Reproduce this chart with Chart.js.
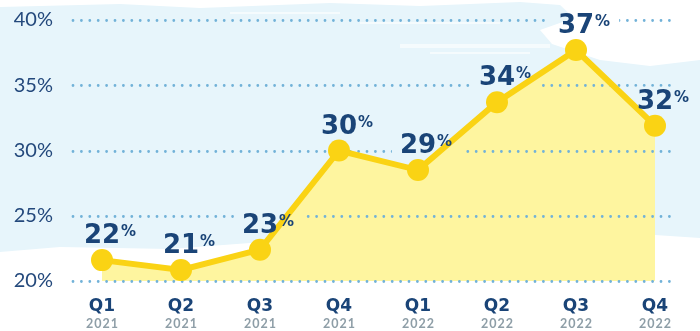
<!DOCTYPE html>
<html lang="en">
<head>
<meta charset="UTF-8">
<title>Quarterly rate</title>
<script src="https://cdn.jsdelivr.net/npm/chart.js"></script>
<style>
  html, body { margin: 0; padding: 0; background: #fff; }
  #wrap { width: 700px; height: 331px; }
</style>
</head>
<body>
<div id="wrap"><canvas id="chart" width="700" height="331"></canvas></div>
<script>
// data
const quarters = ["Q1", "Q2", "Q3", "Q4", "Q1", "Q2", "Q3", "Q4"];
const years = ["2021", "2021", "2021", "2021", "2022", "2022", "2022", "2022"];
const values = [21.6, 20.85, 22.4, 30.0, 28.5, 33.7, 37.7, 31.9];
const valueLabels = ["22", "21", "23", "30", "29", "34", "37", "32"];

const navy = "#1a4477";
const yellow = "#fad314";
const numFont = "bold 26px 'DejaVu Sans'";
const pctFont = "bold 15px 'DejaVu Sans'";

// where a value label sits relative to its point
function labelBox(c, pt, i) {
  c.font = numFont;
  const w = c.measureText(valueLabels[i]).width;
  c.font = pctFont;
  const pw = c.measureText("%").width;
  const bx = pt.x - w / 2, by = pt.y - 17;
  return { bx, by, w, pw };
}

// painted light blue backdrop
const backdrop = {
  id: "backdrop",
  beforeDraw(chart) {
    const c = chart.ctx;
    c.save();
    c.fillStyle = "#fff";
    c.fillRect(0, 0, chart.width, chart.height);
    c.fillStyle = "#e7f5fb";
    const pts = [[0,7],[120,4],[200,8],[330,3],[420,6],[520,2],[560,5],[574,18],[540,30],[552,44],
      [600,60],[650,66],[700,60],[700,238],[640,234],[560,240],[400,245],[250,243],[170,249],[60,247],[0,252]];
    c.beginPath();
    pts.forEach((p, i) => i ? c.lineTo(p[0], p[1]) : c.moveTo(p[0], p[1]));
    c.closePath();
    c.fill();
    // soft white brush streaks
    c.fillStyle = "rgba(255,255,255,0.6)";
    [[230,12,110,2],[360,22,140,2],[400,44,150,4],[430,52,100,2],[0,257,50,2],[20,266,40,2],[190,252,70,2]]
      .forEach(s => c.fillRect(s[0], s[1], s[2], s[3]));
    c.restore();
  }
};

// dotted grid lines, drawn over the fill, broken where a label sits
const dots = {
  id: "dots",
  beforeDatasetsDraw(chart) {
    const c = chart.ctx, y = chart.scales.y;
    const meta = chart.getDatasetMeta(0);
    c.save();
    c.beginPath();
    c.rect(0, 0, chart.width, chart.height);
    meta.data.forEach((pt, i) => {
      const b = labelBox(c, pt, i);
      c.rect(b.bx - 8, b.by - 22, b.w + b.pw + 18, 26);
    });
    c.clip("evenodd");
    c.strokeStyle = "#72b2d8";
    c.lineWidth = 2.8;
    c.lineCap = "round";
    c.setLineDash([0, 8.4]);
    y.ticks.forEach(t => {
      const py = Math.round(y.getPixelForValue(t.value)) + 0.5;
      c.beginPath();
      c.moveTo(73, py);
      c.lineTo(674, py);
      c.stroke();
    });
    c.restore();
  }
};

// value labels and two-line x labels
const labels = {
  id: "labels",
  afterDatasetsDraw(chart) {
    const c = chart.ctx;
    const meta = chart.getDatasetMeta(0);
    c.save();
    c.fillStyle = navy;
    c.textBaseline = "alphabetic";
    c.textAlign = "left";
    meta.data.forEach((pt, i) => {
      const b = labelBox(c, pt, i);
      c.font = numFont;
      c.fillText(valueLabels[i], b.bx, b.by);
      c.font = pctFont;
      c.fillText("%", b.bx + b.w + 1, b.by - 7);
    });
    const x = chart.scales.x;
    quarters.forEach((q, i) => {
      const px = x.getPixelForValue(i);
      c.textAlign = "center";
      c.fillStyle = navy;
      c.font = "bold 17px 'DejaVu Sans'";
      c.fillText(q, px, 311);
      c.fillStyle = "#8e9ea7";
      c.font = "bold 12.5px Lato";
      c.letterSpacing = "1px";
      c.fillText(years[i], px + 0.5, 328);
      c.letterSpacing = "0px";
    });
    c.restore();
  }
};

new Chart(document.getElementById("chart"), {
  type: "line",
  data: {
    labels: quarters.map((q, i) => q + " " + years[i]),
    datasets: [{
      data: values,
      borderColor: yellow,
      borderWidth: 6,
      backgroundColor: "#fef59f",
      fill: "start",
      tension: 0,
      pointRadius: 11,
      pointBackgroundColor: yellow,
      pointBorderWidth: 0
    }]
  },
  options: {
    responsive: false,
    animation: false,
    layout: { autoPadding: false, padding: { top: 20, bottom: 50, right: 45, left: 0 } },
    plugins: {
      legend: { display: false },
      tooltip: { enabled: false },
      filler: { drawTime: "beforeDatasetsDraw" }
    },
    scales: {
      x: { display: false },
      y: {
        min: 20,
        max: 40,
        afterFit(s) { s.width = 102; s.paddingTop = 0; s.paddingBottom = 0; },
        grid: { display: false, drawTicks: false },
        border: { display: false },
        ticks: {
          stepSize: 5,
          padding: 49,
          color: "#24497c",
          font: { family: "Lato", size: 20 },
          callback: v => v + "%"
        }
      }
    }
  },
  plugins: [backdrop, dots, labels]
});
</script>
</body>
</html>
